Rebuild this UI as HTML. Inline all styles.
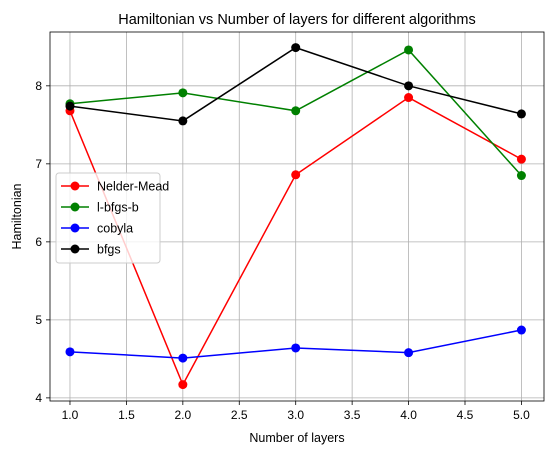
<!DOCTYPE html>
<html><head><meta charset="utf-8"><style>
body{margin:0;background:#fff;}
svg{display:block;font-family:"Liberation Sans","DejaVu Sans",sans-serif;}
</style></head><body>
<svg id="chart" width="554" height="455"></svg>
<script>
const xValues=[1,2,3,4,5];
const nelderMead=[7.68,4.17,6.86,7.85,7.06];
const lbfgsb=[7.77,7.91,7.68,8.46,6.85];
const cobyla=[4.59,4.51,4.64,4.58,4.87];
const bfgs=[7.74,7.55,8.49,8.0,7.64];
const xTicks=[1.0,1.5,2.0,2.5,3.0,3.5,4.0,4.5,5.0];
const yTicks=[4,5,6,7,8];
const seriesNames=["Nelder-Mead","l-bfgs-b","cobyla","bfgs"];
const seriesColors=["#ff0000","#008000","#0000ff","#000000"];

const L=50,R=544,T=32,B=401;
const xMin=0.823,xMax=5.2,yMin=3.96,yMax=8.69;
const sx=v=>L+(v-xMin)/(xMax-xMin)*(R-L);
const sy=v=>B-(v-yMin)/(yMax-yMin)*(B-T);
const NS="http://www.w3.org/2000/svg";
const svg=document.getElementById('chart');
function mk(tag,attrs,parent){const e=document.createElementNS(NS,tag);for(const k in attrs)e.setAttribute(k,attrs[k]);(parent||svg).appendChild(e);return e;}

const grid=mk('g',{});


xTicks.forEach(t=>{
  mk('line',{x1:sx(t),x2:sx(t),y1:T,y2:B,stroke:'#b0b0b0','stroke-width':0.8},grid);
  mk('line',{x1:sx(t),x2:sx(t),y1:B,y2:B+4,stroke:'#000','stroke-width':0.8});
  const tx=mk('text',{x:sx(t),y:B+18,'text-anchor':'middle','font-size':12});
  tx.textContent=t.toFixed(1);
  
  
});
yTicks.forEach(t=>{
  mk('line',{x1:L,x2:R,y1:sy(t),y2:sy(t),stroke:'#b0b0b0','stroke-width':0.8},grid);
  mk('line',{x1:L-4,x2:L,y1:sy(t),y2:sy(t),stroke:'#000','stroke-width':0.8});
  const tx=mk('text',{x:L-8,y:sy(t)+4,'text-anchor':'end','font-size':12});
  tx.textContent=t;
  
  
});

const allSeries=[nelderMead,lbfgsb,cobyla,bfgs];
allSeries.forEach((vals,i)=>{
  const g=mk('g',{});
  
  
  const pts=vals.map((v,j)=>sx(xValues[j])+','+sy(v)).join(' ');
  mk('polyline',{points:pts,fill:'none',stroke:seriesColors[i],'stroke-width':1.5},g);
  vals.forEach((v,j)=>{
    const c=mk('circle',{cx:sx(xValues[j]),cy:sy(v),r:4.5,fill:seriesColors[i]},g);
    
    
  });
});

const frame=mk('rect',{x:L,y:T,width:R-L,height:B-T,fill:'none',stroke:'#000','stroke-width':0.8});



const title=mk('text',{x:(L+R)/2,y:24,'text-anchor':'middle','font-size':14.5});
title.textContent='Hamiltonian vs Number of layers for different algorithms';


const xl=mk('text',{x:(L+R)/2,y:442,'text-anchor':'middle','font-size':12.5});
xl.textContent='Number of layers';


const yl=mk('text',{x:21,y:(T+B)/2,'text-anchor':'middle','font-size':12.5,transform:'rotate(-90 21 '+((T+B)/2)+')'});
yl.textContent='Hamiltonian';



const lg=mk('g',{});


mk('rect',{x:56,y:173,width:104,height:90,rx:3,fill:'#fff','fill-opacity':0.8,stroke:'#ccc'},lg);
seriesNames.forEach((n,i)=>{
  const y=186+i*21;
  const e=mk('g',{},lg);
  
  
  mk('line',{x1:61,x2:89,y1:y,y2:y,stroke:seriesColors[i],'stroke-width':1.5},e);
  mk('circle',{cx:75,cy:y,r:4.5,fill:seriesColors[i]},e);
  const t=mk('text',{x:97,y:y+4.5,'font-size':12.5},e);
  t.textContent=n;
});
</script>
</body></html>
